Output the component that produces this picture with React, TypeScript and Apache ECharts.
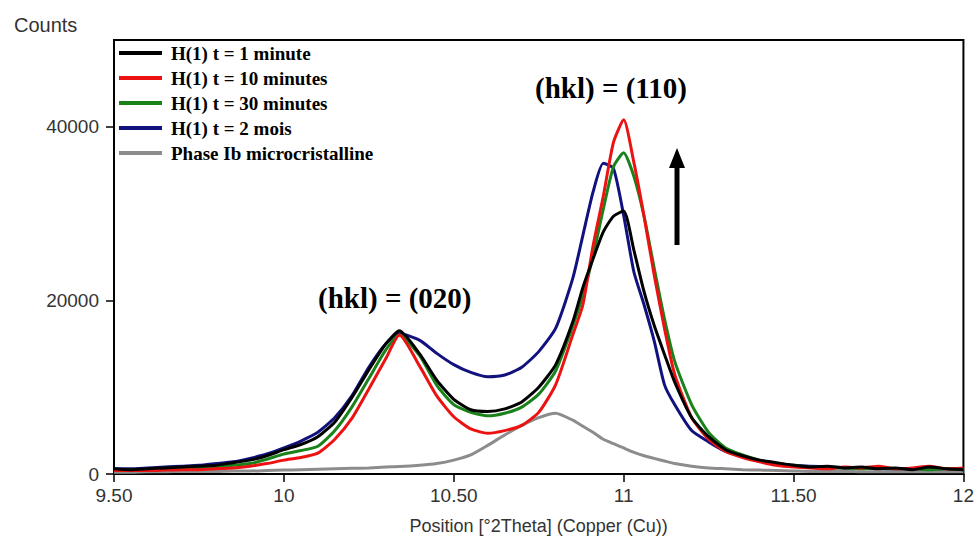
import React, { useEffect, useRef } from 'react';
import * as echarts from 'echarts';

const positions = [
  9.5, 9.55, 9.6, 9.65, 9.7, 9.75, 9.8, 9.85, 9.9, 9.95, 10.0, 10.05, 10.1, 10.15, 10.2, 10.25, 10.3,
  10.34,
  10.4, 10.45, 10.5, 10.55, 10.6, 10.65, 10.7, 10.75, 10.8, 10.85,
  10.88, 10.91, 10.94, 10.97, 11.0, 11.03, 11.06, 11.09, 11.12, 11.15,
  11.2, 11.25, 11.3, 11.35, 11.4, 11.45, 11.5, 11.55, 11.6, 11.65, 11.7, 11.75, 11.8, 11.85, 11.9, 11.95, 12.0,
];

const black1min = [
  600, 500, 600, 700, 800, 900, 1000, 1300, 1600, 2100, 2800, 3400, 4300, 6000, 8800, 12000, 15000,
  16500,
  13800, 10800, 8600, 7400, 7200, 7500, 8300, 10000, 12600, 17500,
  21500, 24800, 27900, 29700, 30300, 25800, 21000, 17100, 13800, 10600,
  6500, 4300, 2800, 2100, 1600, 1300, 1000, 800, 900, 700, 800, 600, 700, 500, 800, 600, 500,
];

const red10min = [
  400, 400, 400, 450, 500, 500, 600, 700, 900, 1200, 1600, 1900, 2400, 4000, 6400, 9800, 13300,
  16000,
  12400, 9000, 6600, 5200, 4700, 5000, 5600, 7100, 10300, 16000,
  19500, 26300, 32000, 38200, 40800, 35900, 29700, 22900, 16800, 11500,
  6500, 4000, 2600, 1900, 1400, 1000, 800, 700, 600, 800, 700, 900, 600, 700, 900, 600, 700,
];

const green30min = [
  500, 500, 500, 600, 600, 700, 800, 1000, 1200, 1700, 2300, 2700, 3200, 5000, 7700, 11000, 14300,
  16000,
  13600, 10200, 8000, 7100, 6700, 7000, 7700, 9200, 11900, 17000,
  20600, 25100, 30500, 35400, 37000, 34300, 29700, 23700, 17900, 13000,
  8000, 4800, 3000, 2200, 1600, 1200, 1000, 800, 700, 700, 600, 700, 600, 600, 500, 600, 500,
];

const blue2mois = [
  600, 600, 700, 800, 900, 1000, 1200, 1400, 1800, 2300, 3000, 3800, 4800, 6500, 9000, 12300, 15000,
  16200,
  15400, 13900, 12600, 11700, 11200, 11400, 12300, 14100, 16800, 22500,
  27500, 32500, 35800, 35200, 29800, 23300, 19500, 15300, 10300, 8000,
  5000, 3700, 2600, 2000, 1500, 1200, 1000, 900, 800, 700, 700, 650, 600, 600, 550, 600, 500,
];

const grayPhaseIb = [
  200, 200, 250, 250, 300, 300, 300, 350, 350, 400, 450, 500, 550, 600, 650, 700, 800,
  850,
  1000, 1200, 1600, 2200, 3300, 4500, 5600, 6500, 7000, 6200,
  5500, 4800, 4000, 3500, 3000, 2500, 2100, 1800, 1500, 1200,
  900, 700, 600, 500, 450, 400, 350, 300, 300, 300, 250, 250, 250, 250, 250, 250, 250,
];

const seriesNames = [
  'H(1) t = 1 minute',
  'H(1) t = 10 minutes',
  'H(1) t = 30 minutes',
  'H(1) t = 2 mois',
  'Phase Ib microcristalline',
];
const yTicks = [0, 20000, 40000];
const annotations = ['(hkl) = (020)', '(hkl) = (110)'];

const pairs = (vals: number[]) => positions.map((x, i) => [x, vals[i]]);

export default function App() {
  const ref = useRef<HTMLDivElement>(null);
  useEffect(() => {
    const chart = echarts.init(ref.current!, null, { renderer: 'svg' });
    const mk = (name: string, vals: number[], color: string) => ({
      name,
      type: 'line',
      data: pairs(vals),
      showSymbol: false,
      color,
      lineStyle: { color, width: 3 },
      smooth: 0.2,
    });
    chart.setOption({
      animation: false,
      backgroundColor: '#ffffff',
      title: {
        text: 'Counts',
        left: 9,
        top: 10,
        textStyle: { fontFamily: 'Liberation Sans', fontWeight: 'normal', fontSize: 20, color: '#333' },
      },
      grid: {
        left: 114,
        right: 13,
        top: 40,
        bottom: 62,
        show: true,
        borderColor: '#000',
        borderWidth: 2,
      },
      legend: {
        data: seriesNames,
        orient: 'vertical',
        left: 114,
        top: 38,
        icon: 'rect',
        itemWidth: 43,
        itemHeight: 4,
        itemGap: 5,
        textStyle: {
          fontFamily: 'Liberation Serif',
          fontWeight: 'bold',
          fontSize: 19,
          color: '#000',
          lineHeight: 20,
          padding: [0, 0, 0, 4],
        },
      },
      xAxis: {
        type: 'value',
        min: 9.5,
        max: 12,
        interval: 0.5,
        name: 'Position [°2Theta] (Copper (Cu))',
        nameLocation: 'middle',
        nameGap: 43,
        nameTextStyle: { fontFamily: 'Liberation Sans', fontSize: 18, color: '#333' },
        axisLine: { onZero: false, lineStyle: { color: '#000', width: 2 } },
        axisTick: { length: 8, lineStyle: { color: '#000', width: 1.5 } },
        axisLabel: {
          fontFamily: 'Liberation Sans',
          fontSize: 19,
          color: '#333',
          margin: 12,
          formatter: (v: number) => (Number.isInteger(v) ? String(v) : v.toFixed(2)),
        },
        splitLine: { show: false },
      },
      yAxis: {
        type: 'value',
        min: 0,
        max: 50000,
        interval: 10000,
        axisLine: { show: true, lineStyle: { color: '#000', width: 2 } },
        axisTick: { show: true, length: 8, customValues: yTicks, lineStyle: { color: '#000', width: 1.5 } },
        axisLabel: {
          customValues: yTicks,
          fontFamily: 'Liberation Sans',
          fontSize: 19,
          color: '#333',
          margin: 15,
          formatter: (v: number) => String(v),
        },
        splitLine: { show: false },
      },
      graphic: [
        {
          type: 'text',
          left: 318,
          top: 283,
          style: { text: annotations[0], font: 'bold 29px "Liberation Serif"', fill: '#000' },
        },
        {
          type: 'text',
          left: 535,
          top: 73,
          style: { text: annotations[1], font: 'bold 29px "Liberation Serif"', fill: '#000' },
        },
        {
          type: 'line',
          shape: { x1: 677, y1: 165, x2: 677, y2: 245 },
          style: { stroke: '#000', lineWidth: 5 },
        },
        {
          type: 'polygon',
          shape: { points: [[669, 168], [685, 168], [677, 148]] },
          style: { fill: '#000' },
        },
      ],
      series: [
        mk(seriesNames[4], grayPhaseIb, '#8c8c8c'),
        mk(seriesNames[3], blue2mois, '#12127e'),
        mk(seriesNames[2], green30min, '#1a821a'),
        mk(seriesNames[1], red10min, '#ec1212'),
        mk(seriesNames[0], black1min, '#000000'),
      ],
    });
    return () => chart.dispose();
  }, []);
  return <div ref={ref} style={{ position: 'absolute', left: 0, top: 0, width: 977, height: 540 }} />;
}
